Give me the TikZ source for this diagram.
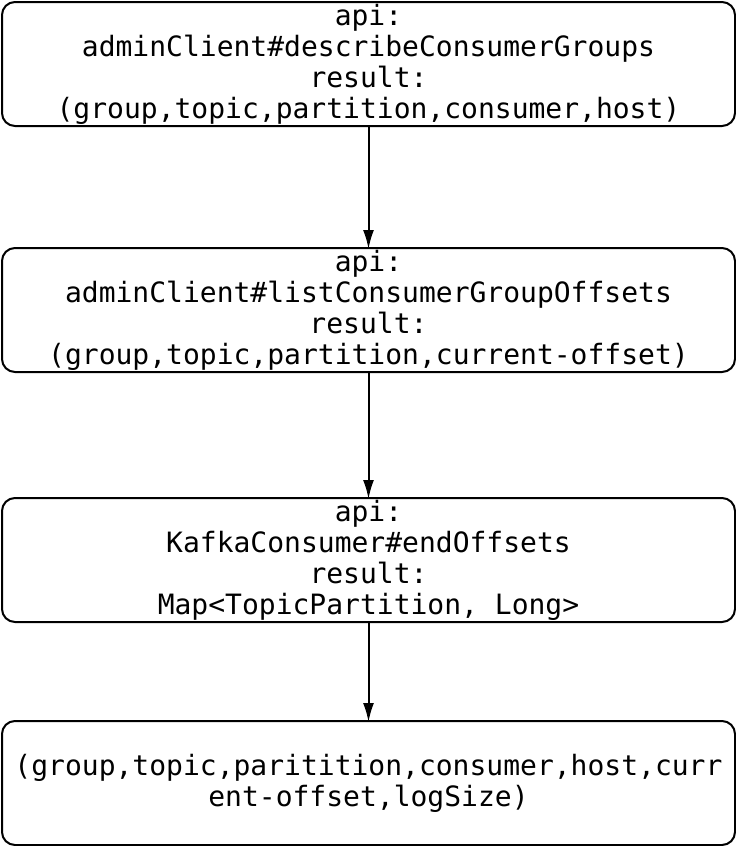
\documentclass[tikz,border=0pt]{standalone}
\usepackage{fontspec}
\setmonofont{DejaVu Sans Mono}
\usetikzlibrary{arrows.meta}
\begin{document}
\begin{tikzpicture}[x=1pt,y=-1pt,
  box/.style={draw=black,line width=2pt,rounded corners=13pt,minimum width=733pt,minimum height=124pt,inner sep=0pt,align=center,
    font=\ttfamily\fontsize{28}{31}\selectfont},
  conn/.style={draw=black,line width=2pt,-{Latex[length=19pt,width=11pt]}}]
\useasboundingbox (0,0) rectangle (736,846);
\node[box] (b1) at (368.5,64) {api:\\adminClient\#describeConsumerGroups\\result:\\(group,topic,partition,consumer,host)};
\node[box] (b2) at (368.5,310) {api:\\adminClient\#listConsumerGroupOffsets\\result:\\(group,topic,partition,current-offset)};
\node[box] (b3) at (368.5,560) {api:\\KafkaConsumer\#endOffsets\\result:\\Map<TopicPartition, Long>};
\node[box] (b4) at (368.5,783) {(group,topic,paritition,consumer,host,curr\\ent-offset,logSize)};
\draw[conn] (b1.south) -- ([yshift=-2pt]b2.north);
\draw[conn] (b2.south) -- ([yshift=-2pt]b3.north);
\draw[conn] (b3.south) -- ([yshift=-2pt]b4.north);
\end{tikzpicture}
\end{document}
